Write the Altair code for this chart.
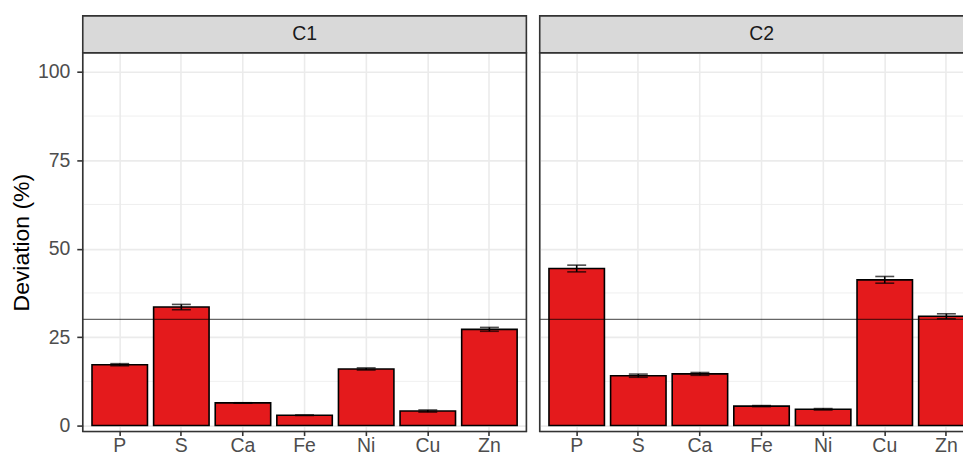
import altair as alt
import pandas as pd

# ---- data ----
elements = ["P", "S", "Ca", "Fe", "Ni", "Cu", "Zn"]
panels = ["C1", "C2"]
c1_values = [17.2, 33.5, 6.4, 2.9, 16.0, 4.1, 27.2]
c1_errors = [0.3, 0.75, 0.05, 0.05, 0.3, 0.3, 0.55]
c2_values = [44.4, 14.1, 14.6, 5.5, 4.6, 41.2, 30.9]
c2_errors = [0.95, 0.45, 0.4, 0.15, 0.2, 0.95, 0.7]
threshold = [30]
major_ticks = [0, 25, 50, 75, 100]
minor_ticks = [12.5, 37.5, 62.5, 87.5]

rows = []
for panel, vals, errs in [(panels[0], c1_values, c1_errors), (panels[1], c2_values, c2_errors)]:
    for el, v, e in zip(elements, vals, errs):
        rows.append({"panel": panel, "element": el, "value": v, "lo": v - e, "hi": v + e})
df = pd.DataFrame(rows)
minor_df = pd.DataFrame({"value": minor_ticks})
thr_df = pd.DataFrame({"value": threshold})

PW, PH = 445, 380
STRIP = 37
YDOM = [-1.7, 105.4]
RED = "#E41A1C"
GRID = "#EBEBEB"
DARK = "#333333"
FONT = "Liberation Sans"
BW = 1.6

yscale = alt.Scale(domain=YDOM, nice=False, zero=False)
xscale = alt.Scale(domain=elements, paddingInner=0.1, paddingOuter=0.15)


def panel_chart(name, left):
    if left:
        yaxis = alt.Axis(values=major_ticks, title="Deviation (%)", titleFontSize=23,
                         titleColor="black", titleFontWeight="normal", titleFont=FONT,
                         titlePadding=3.5, labelFontSize=19.5, labelColor="#4D4D4D",
                         labelFont=FONT, labelPadding=7, tickSize=6, tickColor=DARK,
                         tickWidth=BW, domain=False, grid=True, gridColor=GRID,
                         gridWidth=BW)
        ytitle = "Deviation (%)"
    else:
        yaxis = alt.Axis(values=major_ticks, title=None, labels=False, ticks=False,
                         domain=False, grid=True, gridColor=GRID, gridWidth=BW,
                         minExtent=0, maxExtent=0)
        ytitle = None
    xaxis = alt.Axis(title=None, labelAngle=0, domain=False, tickColor=DARK, tickSize=4,
                     tickWidth=BW, labelFontSize=19.5, labelColor="#4D4D4D",
                     labelFont=FONT, labelPadding=1, grid=True, gridColor=GRID,
                     gridWidth=BW, bandPosition=0.5)

    base = alt.Chart(df).transform_filter(alt.datum.panel == name)

    minor = alt.Chart(minor_df).mark_rule(color=GRID, strokeWidth=0.8).encode(
        y=alt.Y("value:Q", scale=yscale, title=ytitle)
    )
    bars = base.mark_bar(fill=RED, stroke="black", strokeWidth=BW).encode(
        x=alt.X("element:N", sort=elements, scale=xscale, axis=xaxis),
        y=alt.Y("value:Q", scale=yscale, axis=yaxis, title=ytitle),
        y2=alt.datum(0),
    )
    err = base.mark_rule(color="black", strokeWidth=BW).encode(
        x=alt.X("element:N", sort=elements, scale=xscale),
        y=alt.Y("lo:Q", scale=yscale, title=ytitle),
        y2="hi:Q",
    )
    cap_lo = base.mark_tick(color="black", thickness=BW, size=19).encode(
        x=alt.X("element:N", sort=elements, scale=xscale),
        y=alt.Y("lo:Q", scale=yscale, title=ytitle),
    )
    cap_hi = base.mark_tick(color="black", thickness=BW, size=19).encode(
        x=alt.X("element:N", sort=elements, scale=xscale),
        y=alt.Y("hi:Q", scale=yscale, title=ytitle),
    )
    hline = alt.Chart(thr_df).mark_rule(color="black", opacity=0.6, strokeWidth=1.3).encode(
        y=alt.Y("value:Q", scale=yscale, title=ytitle)
    )
    strip_df = pd.DataFrame({"label": [name]})
    strip = alt.Chart(strip_df).mark_rect(fill="#D9D9D9", stroke=DARK, strokeWidth=BW).encode(
        x=alt.value(0), x2=alt.value(PW), y=alt.value(-STRIP), y2=alt.value(0)
    )
    strip_text = alt.Chart(strip_df).mark_text(
        fontSize=19.5, color="#1A1A1A", font=FONT, baseline="middle", align="center"
    ).encode(x=alt.value(PW / 2), y=alt.value(-STRIP / 2), text="label:N")
    border = alt.Chart(strip_df).mark_rect(fill="transparent", stroke=DARK, strokeWidth=BW).encode(
        x=alt.value(0), x2=alt.value(PW), y=alt.value(0), y2=alt.value(PH)
    )

    return alt.layer(minor, bars, err, cap_lo, cap_hi, hline, strip, strip_text, border).properties(
        width=PW, height=PH
    )


chart = alt.hconcat(panel_chart(panels[0], True), panel_chart(panels[1], False), spacing=9.4).properties(
    padding={"left": 2, "top": 5.2, "right": -22, "bottom": -2}
).configure_view(stroke="transparent", strokeWidth=0).configure(font=FONT, background="white")

chart.save("out.html", embed_options={"renderer": "svg", "actions": False})
